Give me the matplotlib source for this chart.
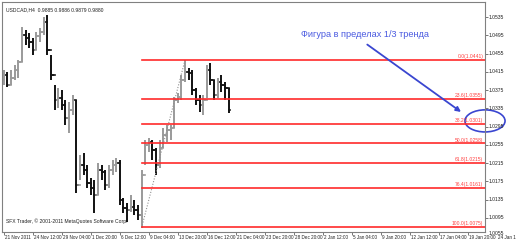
import matplotlib.pyplot as plt
import matplotlib.transforms as mtransforms
from matplotlib.patches import Ellipse

# USDCAD H4, bars every 8 hours (x in H4 bars)
bar_high = [1.0419, 1.0415, 1.0419, 1.0430, 1.0441, 1.0513, 1.0507, 1.0500, 1.0489, 1.0502,
            1.0511, 1.0535, 1.0539, 1.0452, 1.0386, 1.0379, 1.0375, 1.0353, 1.0349, 1.0364,
            1.0353, 1.0233, 1.0237, 1.0211, 1.0182, 1.0178, 1.0215, 1.0211, 1.0200, 1.0211,
            1.0222, 1.0226, 1.0222, 1.0139, 1.0128, 1.0145, 1.0134, 1.0123, 1.0200, 1.0266,
            1.0270, 1.0266, 1.0248, 1.0266, 1.0292, 1.0298, 1.0298, 1.0360, 1.0369, 1.0408,
            1.0441, 1.0423, 1.0419, 1.0379, 1.0364, 1.0364, 1.0430, 1.0434, 1.0397, 1.0401,
            1.0408, 1.0393, 1.0379]
bar_low = [1.0386, 1.0382, 1.0386, 1.0397, 1.0401, 1.0436, 1.0474, 1.0467, 1.0452, 1.0463,
           1.0480, 1.0496, 1.0452, 1.0397, 1.0331, 1.0336, 1.0331, 1.0298, 1.0281, 1.0320,
           1.0150, 1.0178, 1.0189, 1.0160, 1.0145, 1.0106, 1.0145, 1.0178, 1.0156, 1.0160,
           1.0189, 1.0196, 1.0123, 1.0106, 1.0086, 1.0108, 1.0101, 1.0090, 1.0073, 1.0211,
           1.0239, 1.0222, 1.0189, 1.0204, 1.0248, 1.0261, 1.0266, 1.0292, 1.0347, 1.0353,
           1.0393, 1.0397, 1.0364, 1.0342, 1.0327, 1.0320, 1.0358, 1.0386, 1.0353, 1.0358,
           1.0371, 1.0353, 1.0325]
bar_close = [1.0408, 1.0386, 1.0401, 1.0419, 1.0436, 1.0496, 1.0489, 1.0480, 1.0463, 1.0493,
             1.0502, 1.0524, 1.0463, 1.0408, 1.0353, 1.0358, 1.0342, 1.0314, 1.0331, 1.0353,
             1.0167, 1.0211, 1.0200, 1.0171, 1.0160, 1.0145, 1.0200, 1.0196, 1.0167, 1.0200,
             1.0211, 1.0215, 1.0134, 1.0117, 1.0112, 1.0119, 1.0112, 1.0101, 1.0189, 1.0255,
             1.0261, 1.0244, 1.0211, 1.0248, 1.0277, 1.0288, 1.0292, 1.0353, 1.0360, 1.0397,
             1.0415, 1.0412, 1.0375, 1.0353, 1.0342, 1.0353, 1.0419, 1.0397, 1.0364, 1.0393,
             1.0386, 1.0379, 1.0331]
first_open = 1.0397

time_labels = ['21 Nov 2011', '24 Nov 12:00', '29 Nov 04:00', '1 Dec 20:00', '6 Dec 12:00',
               '9 Dec 04:00', '13 Dec 20:00', '16 Dec 12:00', '21 Dec 04:00', '23 Dec 20:00',
               '28 Dec 20:00', '2 Jan 12:00', '5 Jan 04:00', '9 Jan 20:00', '12 Jan 12:00',
               '17 Jan 04:00', '19 Jan 20:00', '24 Jan 12:00']
price_labels = [1.0535, 1.0495, 1.0455, 1.0415, 1.0375, 1.0335, 1.0295,
                1.0255, 1.0215, 1.0175, 1.0135, 1.0095, 1.0055]

fib_levels = [0.0, 23.6, 38.2, 50.0, 61.8, 76.4, 100.0]
fib_top = 1.0441
fib_bottom = 1.0075
fib_start_bar = 38   # low bar
fib_end_bar = 50     # high bar

fig = plt.figure(figsize=(5.16, 2.47), dpi=100)
ax = fig.add_axes([2 / 516, 15 / 247, 483 / 516, 230 / 247])
ax.set_xlim(-1, 265.5)
ax.set_ylim(1.0064, 1.0568)

font = 'Liberation Sans'

# bars
opens = [first_open] + bar_close[:-1]
for i in range(len(bar_close)):
    x = 2 * i
    col = '#9a9a9a' if bar_close[i] >= opens[i] else '#111111'
    ax.plot([x, x], [bar_low[i], bar_high[i]], color=col, lw=1.4, solid_capstyle='butt')
    ax.plot([x - 0.9, x], [opens[i], opens[i]], color=col, lw=1.2)
    ax.plot([x, x + 0.9], [bar_close[i], bar_close[i]], color=col, lw=1.2)

# fibonacci
x0 = 2 * fib_start_bar
x1 = 2 * fib_end_bar
ax.plot([x0, x1], [bar_low[fib_start_bar], bar_high[fib_end_bar]],
        color='#909090', lw=0.8, ls=(0, (1, 1.5)))
for lv in fib_levels:
    p = fib_top - (fib_top - fib_bottom) * lv / 100
    ax.plot([x0, 265.5], [p, p], color='#ff2a2a', lw=1.2)
    ax.text(264.5, p + 0.0002, '%.1f(%.4f)' % (lv, p), color='#ff4040', fontsize=3.6,
            family=font, ha='right', va='bottom')

# frame
for s in ax.spines.values():
    s.set_linestyle((0, (1, 1)))
    s.set_color('#808080')
    s.set_linewidth(0.8)
ax.set_xticks([16 * k for k in range(len(time_labels)) if 16 * k <= 265])
ax.set_xticklabels([])
ax.set_yticks([p for p in price_labels if p > 1.0064])
ax.set_yticklabels([])
ax.yaxis.tick_right()
ax.tick_params(length=2, width=0.6, color='#606060', direction='out')

xt = mtransforms.blended_transform_factory(ax.transData, ax.transAxes)
for k, lab in enumerate(time_labels):
    ax.text(16 * k + 0.8, -0.015, lab, transform=xt, fontsize=3.3, family=font,
            ha='left', va='top', clip_on=False, color='#202020')
yt = mtransforms.blended_transform_factory(ax.transAxes, ax.transData)
for p in price_labels:
    yy = max(p, 1.0060)
    ax.text(1.008, yy, '%.4f' % p, transform=yt, fontsize=3.6, family=font,
            ha='left', va='center', clip_on=False, color='#202020')

ax.text(0.008, 0.975, 'USDCAD,H4  0.9885 0.9886 0.9879 0.9880', transform=ax.transAxes,
        fontsize=3.6, family=font, ha='left', va='top', color='#202020')
ax.text(0.008, 0.035, 'SFX Trader, © 2001-2011 MetaQuotes Software Corp.', transform=ax.transAxes,
        fontsize=3.6, family=font, ha='left', va='bottom', color='#202020')

# annotation
blue = '#3a46d0'
ax.text(0.7516, 0.857, 'Фигура в пределах 1/3 тренда', transform=ax.transAxes,
        fontsize=6.6, family=font, ha='center', va='center', color='#4a5ae0')
ax.annotate('', xy=(0.955, 0.515), xytext=(0.7516, 0.822), xycoords='axes fraction',
            arrowprops=dict(arrowstyle='-|>', color=blue, lw=1.3, mutation_scale=7))
ax.add_patch(Ellipse((1.0, 0.483), 0.083, 0.096, transform=ax.transAxes, fill=False,
                     edgecolor=blue, lw=1.2, clip_on=False))

plt.savefig('out.png', dpi=100)
